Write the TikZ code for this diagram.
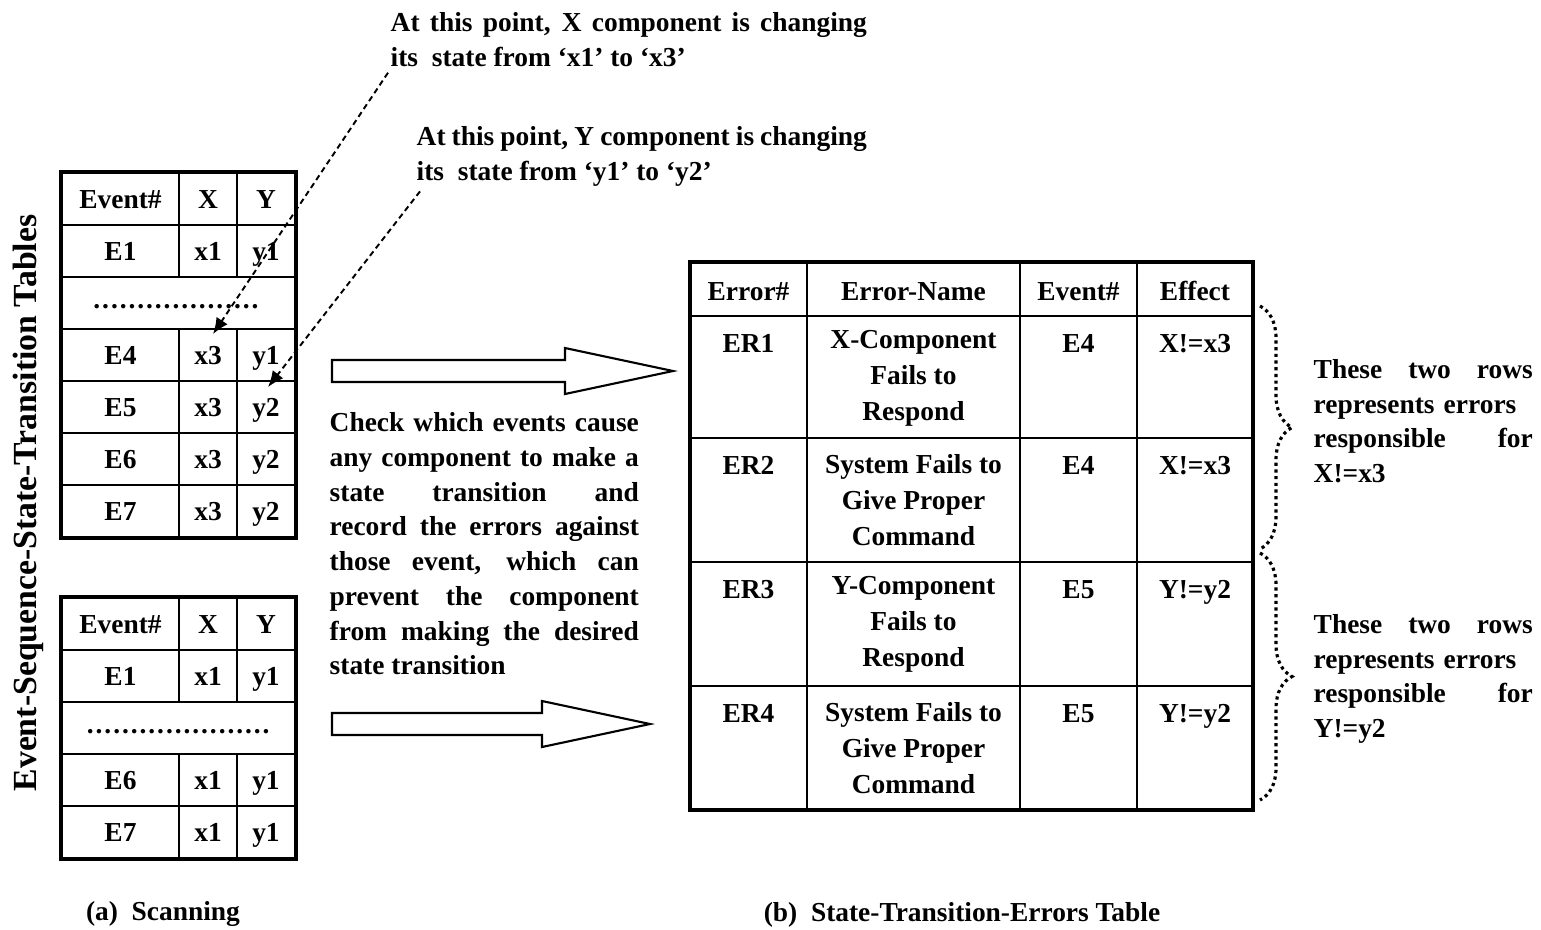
\documentclass[tikz,border=0pt]{standalone}
\usepackage{fontspec}
\setmainfont{Liberation Serif}
\usetikzlibrary{decorations.pathreplacing,arrows.meta}

% spaced dots for the rows that are left out
\newcommand{\skipdots}[1]{\hbox to #1{\leaders\hbox to 2.5pt{\hss.\hss}\hfill}}

\begin{document}
\begin{tikzpicture}[x=0.01cm, y=-0.01cm]
    \tikzstyle{every node}=[font=\fontsize{7.8}{9.6}\selectfont\bfseries, inner sep=0pt]
    \tikzstyle{word}=[text height=6.5pt, text depth=1.3pt]
    \tikzstyle{evcell}=[word, draw, line width=0.5pt, minimum height=0.52cm, minimum width=#1]
    \tikzstyle{frame}=[line width=1.2pt]
    \tikzstyle{grid}=[line width=0.5pt]
    \tikzstyle{note}=[anchor=north west, align=justify]
    \tikzstyle{hint}=[line width=0.55pt, dash pattern=on 1.6pt off 1.1pt, -{Latex[length=4.6pt,width=3.8pt]}]
    \tikzstyle{fat}=[line width=0.6pt]
    \tikzstyle{dotbrace}=[decorate, decoration={brace, amplitude=0.32cm}, line width=0.9pt, densely dotted]

    \useasboundingbox (0,0) rectangle (1541,929);

    \node[rotate=90, font=\fontsize{9.6}{11}\selectfont\bfseries] (title) at (28,503)
        {Event-Sequence-State-Transition Tables};

    % upper event table
    \node[evcell=1.17cm] (ua-h) at (120.5,199) {Event\#};
    \node[evcell=0.58cm] (ua-hx) at (208,199) {X};
    \node[evcell=0.58cm] (ua-hy) at (266,199) {Y};
    \foreach \ev/\xs/\ys/\y in {E1/x1/y1/251, E4/x3/y1/355, E5/x3/y2/407, E6/x3/y2/459, E7/x3/y2/511} {
        \node[evcell=1.17cm] (ua-\ev) at (120.5,\y) {\ev};
        \node[evcell=0.58cm] (ua-\ev-x) at (208,\y) {\xs};
        \node[evcell=0.58cm] (ua-\ev-y) at (266,\y) {\ys};
    }
    \node[evcell=2.33cm, text height=3.4pt, text depth=0pt] (ua-skip) at (178.5,303) {\skipdots{1.72cm}};
    \draw[frame] (ua-h.north west) rectangle (ua-E7-y.south east);

    % lower event table
    \node[evcell=1.17cm] (la-h) at (120.5,624) {Event\#};
    \node[evcell=0.58cm] (la-hx) at (208,624) {X};
    \node[evcell=0.58cm] (la-hy) at (266,624) {Y};
    \foreach \ev/\xs/\ys/\y in {E1/x1/y1/676, E6/x1/y1/780, E7/x1/y1/832} {
        \node[evcell=1.17cm] (la-\ev) at (120.5,\y) {\ev};
        \node[evcell=0.58cm] (la-\ev-x) at (208,\y) {\xs};
        \node[evcell=0.58cm] (la-\ev-y) at (266,\y) {\ys};
    }
    \node[evcell=2.33cm, text height=3.4pt, text depth=0pt] (la-skip) at (178.5,728) {\skipdots{1.85cm}};
    \draw[frame] (la-h.north west) rectangle (la-E7-y.south east);

    \node[word] (cap-a) at (163,911) {(a)~~Scanning};

    % the two state changes
    \node[note, text width=4.76cm, font=\fontsize{7.8}{9.96}\selectfont\bfseries] (xnote) at (390,12)
        {At this point, X component is changing\linebreak its~ state from `x1' to `x3'};
    \node[note, text width=4.5cm, font=\fontsize{7.8}{9.96}\selectfont\bfseries] (ynote) at (416,126)
        {At this point, Y component is changing\linebreak its~ state from `y1' to `y2'};
    \draw[hint] ([shift={(-2,5)}]xnote.south west) -- ([shift={(5,6)}]ua-E4-x.north);
    \draw[hint] ([shift={(4,4)}]ynote.south west) -- ([shift={(2,7)}]ua-E5-y.north);

    % hand-over arrows
    \draw[fat] (332,360) -- (565,360) -- (565,348) -- (673,371) -- (565,394) -- (565,382) -- (332,382) -- cycle;
    \draw[fat] (332,713) -- (542,713) -- (542,701) -- (650,724) -- (542,747) -- (542,735) -- (332,735) -- cycle;

    \node[note, text width=3.09cm, font=\fontsize{7.8}{9.87}\selectfont\bfseries] (howto) at (329,412)
        {Check which events cause\linebreak any component to make a\linebreak state transition and\linebreak
         record the errors against\linebreak those event, which can\linebreak prevent the component\linebreak
         from making the desired\linebreak state transition};

    % error table
    \foreach \y in {316,438,562,686}
        \draw[grid] (690,\y) -- (1253,\y);
    \foreach \x in {807,1020,1137}
        \draw[grid] (\x,262) -- (\x,810);
    \draw[frame] (690,262) rectangle (1253,810);

    \node[word] (eh-er) at (748.5,291) {Error\#};
    \node[word] (eh-name) at (913.5,291) {Error-Name};
    \node[word] (eh-ev) at (1078.5,291) {Event\#};
    \node[word] (eh-eff) at (1195,291) {Effect};
    \foreach \er/\what/\ev/\eff/\y in {ER1/{X-Component\\Fails to\\Respond}/E4/X!=x3/316,
                                      ER2/{System Fails to\\Give Proper\\Command}/E4/X!=x3/438,
                                      ER3/{Y-Component\\Fails to\\Respond}/E5/Y!=y2/562,
                                      ER4/{System Fails to\\Give Proper\\Command}/E5/Y!=y2/686} {
        \node[word] (\er) at (748.5,\y+27) {\er};
        \node[align=center, font=\fontsize{7.8}{10.2}\selectfont\bfseries] (\er-name) at (913.5,\y+62) {\what};
        \node[word] (\er-ev) at (1078.5,\y+27) {\ev};
        \node[word] (\er-eff) at (1195,\y+27) {\eff};
    }

    \node[word] (cap-b) at (962,912) {(b)~~State-Transition-Errors Table};

    % which rows belong to which effect
    \coordinate (xb-top) at (1260,306);
    \coordinate (xb-bot) at (1260,549);
    \coordinate (yb-top) at (1260,553);
    \coordinate (yb-bot) at (1260,800);
    \draw[dotbrace] (xb-top) -- (xb-bot);
    \draw[dotbrace] (yb-top) -- (yb-bot);

    \node[note, align=left, text width=2.19cm, font=\fontsize{7.8}{9.8}\selectfont\bfseries] (xwhy) at (1313,359)
        {These \hfill two \hfill rows\\ represents errors\\ responsible \hfill for\\ X!=x3};
    \node[note, align=left, text width=2.19cm, font=\fontsize{7.8}{9.8}\selectfont\bfseries] (ywhy) at (1313,614)
        {These \hfill two \hfill rows\\ represents errors\\ responsible \hfill for\\ Y!=y2};
\end{tikzpicture}
\end{document}
